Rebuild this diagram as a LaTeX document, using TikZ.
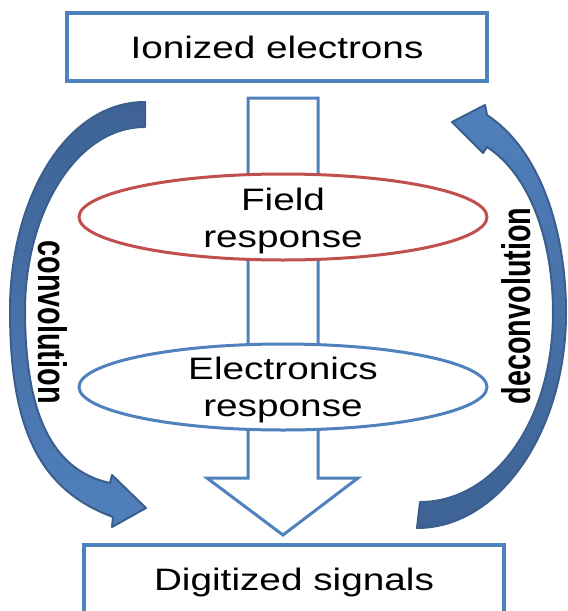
\documentclass[tikz,border=0pt]{standalone}
\usepackage{fontspec}
\setmainfont{Liberation Sans}[FakeStretch=1.25]
\newfontfamily\sidefont{Liberation Sans}[FakeStretch=0.72]
\usetikzlibrary{shapes.geometric}

\definecolor{boxblue}{RGB}{79,129,189}
\definecolor{fieldred}{RGB}{192,80,77}
\definecolor{arrowedge}{RGB}{59,94,140}
\definecolor{arrowdark}{RGB}{62,98,148}
\definecolor{arrowlight}{RGB}{80,128,188}

\begin{document}
\begin{tikzpicture}[x=1pt, y=-1pt,
		stagebox/.style={draw=boxblue, line width=3.5pt, minimum width=420pt, minimum height=68pt,
			inner sep=0pt, text height=22pt, text depth=0pt, font=\fontsize{31}{35}\selectfont},
		response/.style={ellipse, line width=3pt, fill=white, minimum width=408pt, minimum height=86pt,
			inner sep=0pt},
		resptext/.style={align=center, inner sep=0pt, font=\fontsize{31}{37}\selectfont},
		flow/.style={draw=boxblue, line width=3pt, fill=white, line join=miter},
		curvedarrow/.style={draw=arrowedge, line width=2pt, line join=round},
		sidelabel/.style={font=\sidefont\bfseries\fontsize{40}{42}\selectfont}]
		
		\useasboundingbox (0,0) rectangle (568,611);
		\clip (0,0) rectangle (568,611);
		
		% Hollow flow arrow
		\draw[flow] (248,98) -- (318,98) -- (318,478) -- (358,478) -- (283,535)
			-- (207,478) -- (248,478) -- cycle;
		
		% Responses
		\node[response, draw=fieldred] (field) at (283,217) {};
		\node[resptext] (fieldtxt) at ([yshift=-4pt]field.center) {Field\\response};
		\node[response, draw=boxblue] (elec) at (283,387) {};
		\node[resptext] (electxt) at ([yshift=-3pt]elec.center) {Electronics\\response};
		
		% Boxes
		\node[stagebox] (ionized) at (277,47) {Ionized electrons};
		\node[stagebox] (digit) at (294,579) {Digitized signals};
		
		% Convolution arrow (left)
		\path[curvedarrow, top color=arrowdark, bottom color=arrowlight]
			(145,102) .. controls (65,102) and (10,200) .. (10,310)
			.. controls (10,430) and (40,490) .. (113,517)
			-- (112,527) -- (146,508) -- (112,475) -- (110,483)
			.. controls (50,470) and (25,410) .. (25,310)
			.. controls (25,215) and (75,127) .. (145,127) -- cycle;
		\node[sidelabel, rotate=-90] (conv) at (53,322) {convolution};
		
		% Deconvolution arrow (right)
		\path[curvedarrow, top color=arrowlight, bottom color=arrowdark]
			(452,122) -- (485,105) -- (487,115)
			.. controls (540,150) and (566,230) .. (566,313)
			.. controls (566,430) and (500,528) .. (417,528)
			-- (420,502) .. controls (495,502) and (553,420) .. (553,313)
			.. controls (553,240) and (530,175) .. (487,147)
			-- (483,153) -- cycle;
		\node[sidelabel, rotate=90] (deconv) at (516,306) {deconvolution};
		
	\end{tikzpicture}
\end{document}
